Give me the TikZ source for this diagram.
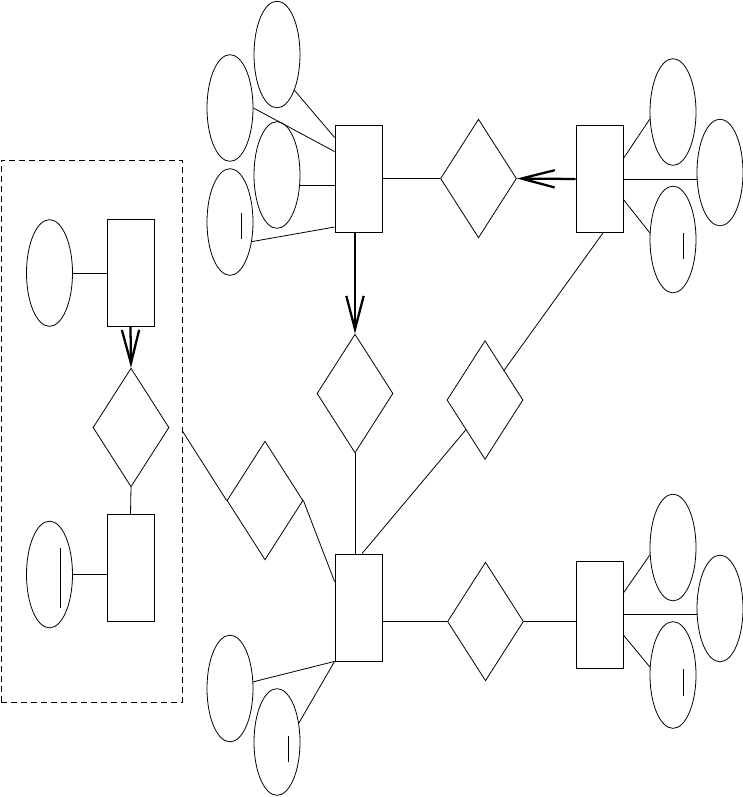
\documentclass[tikz,border=0pt]{standalone}
\usetikzlibrary{shapes.geometric,arrows.meta,calc}
\begin{document}
\begin{tikzpicture}[x=0.75pt,y=-0.75pt,
  entity/.style={draw,rectangle,inner sep=0pt,line width=0.6pt,minimum width=35.25pt,minimum height=80.25pt},
  relation/.style={draw,diamond,inner sep=0pt,line width=0.6pt,minimum width=57pt,minimum height=89pt},
  attrib/.style={draw,ellipse,inner sep=0pt,line width=0.6pt,minimum width=34.5pt,minimum height=80pt},
  link/.style={line width=0.6pt},
  onearrow/.style={line width=1.7pt,-{Straight Barb[length=25pt,width=13pt]}}]
\useasboundingbox (0,0) rectangle (743,797);

\node[draw,dashed,dash pattern=on 4.5pt off 3pt,line width=0.6pt,minimum width=135.75pt,minimum height=406.5pt] (grp) at (91.5,431) {};

\node[entity] (E1) at (358.5,178.5) {};
\node[entity] (E2) at (599.5,179) {};
\node[entity] (E3) at (130.5,273) {};
\node[entity] (E4) at (130.5,568) {};
\node[entity] (E5) at (358.5,607.5) {};
\node[entity] (E6) at (599.5,614.5) {};

\node[relation] (R1) at (478.5,178.5) {};
\node[relation] (R2) at (355,393.5) {};
\node[relation] (R3) at (485,400) {};
\node[relation] (R4) at (131,427.5) {};
\node[relation] (R5) at (265,500.5) {};
\node[relation] (R6) at (485.5,621.5) {};

\node[attrib] (A1) at (277,54.5) {};
\node[attrib] (A2) at (230,108) {};
\node[attrib] (A3) at (277,175) {};
\node[attrib] (A4) at (230,222) {};
\node[attrib] (A5) at (673,112) {};
\node[attrib] (A6) at (720,172.5) {};
\node[attrib] (A7) at (673,239.5) {};
\node[attrib] (A8) at (673,547.5) {};
\node[attrib] (A9) at (720,608.5) {};
\node[attrib] (A10) at (673,675) {};
\node[attrib] (A11) at (49.5,273) {};
\node[attrib] (A12) at (49.5,574.5) {};
\node[attrib] (A13) at (230,688.5) {};
\node[attrib] (A14) at (277,742) {};

\draw[link] ([shift={(11,-9)}]A4.center) -- ++(0,26);
\draw[link] ([shift={(10,-6.5)}]A7.center) -- ++(0,26);
\draw[link] ([shift={(10,-6)}]A10.center) -- ++(0,27);
\draw[link] ([shift={(10.5,-26.5)}]A12.center) -- ++(0,60);
\draw[link] ([shift={(11,-6)}]A14.center) -- ++(0,26);

\draw[link] (A1.-64) -- ($(E1.north west)!0.12!(E1.south west)$);
\draw[link] (A2.east) -- ($(E1.north west)!0.25!(E1.south west)$);
\draw[link] (A3.-25) -- (A3.-25 -| E1.west);
\draw[link] (A4.-42) -- ($(E1.north west)!0.95!(E1.south west)$);
\draw[link] (E1.east) -- (R1.west);
\draw[onearrow] (E2.west) -- (R1.east);
\draw[onearrow] (E1.south -| R2.north) -- (R2.north);
\draw[link] (R2.south) -- (R2.south |- E5.north);
\draw[link] ($(E2.south)+(3.5,0)$) -- (R3.north east);
\draw[link] (R3.south west) -- ($(E5.north)+(3.5,0)$);

\draw[link] ($(E2.north east)!0.31!(E2.south east)$) -- (A5.197);
\draw[link] (E2.east) -- (E2.east -| A6.west);
\draw[link] ($(E2.north east)!0.69!(E2.south east)$) -- (A7.164);

\draw[link] ($(E6.north east)!0.30!(E6.south east)$) -- (A8.198);
\draw[link] (E6.east) -- (E6.east -| A9.west);
\draw[link] ($(E6.north east)!0.69!(E6.south east)$) -- (A10.161);
\draw[link] (R6.west) -- (R6.west -| E5.east);
\draw[link] (R6.east) -- (R6.east -| E6.west);

\draw[link] (A13.16) -- (E5.south west);
\draw[link] (A14.41) -- (E5.south west);
\draw[link] (grp.east) -- (R5.west);
\draw[link] (R5.east) -- ($(E5.north west)!0.26!(E5.south west)$);

\draw[link] (A11.east) -- (E3.west);
\draw[onearrow] (E3.south) -- (R4.north);
\draw[link] (R4.south) -- (E4.north);
\draw[link] (A12.east) -- (A12.east -| E4.west);
\end{tikzpicture}
\end{document}
